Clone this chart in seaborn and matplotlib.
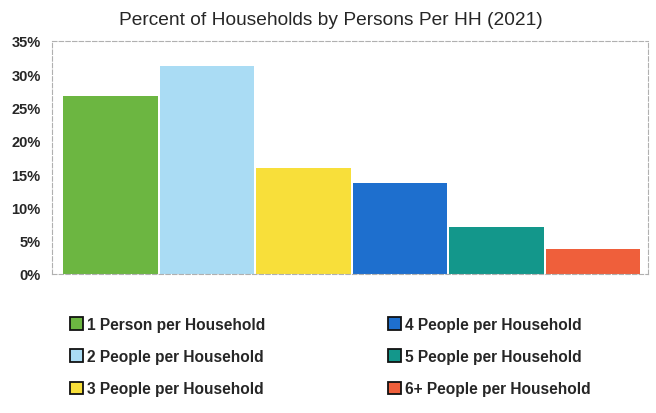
import matplotlib
matplotlib.use("Agg")
import matplotlib.pyplot as plt
from matplotlib.patches import Patch
from matplotlib.ticker import PercentFormatter
import seaborn as sns
import pandas as pd

categories = [
    "1 Person per Household",
    "2 People per Household",
    "3 People per Household",
    "4 People per Household",
    "5 People per Household",
    "6+ People per Household",
]
shares = [26.7, 31.2, 15.9, 13.7, 7.1, 3.7]
colors = ["#6cb641", "#aadcf4", "#f8df3a", "#1e6fce", "#13978b", "#ef5f3b"]
yticks = [0, 5, 10, 15, 20, 25, 30, 35]

sns.set_theme(style="white")
plt.rcParams["font.family"] = ["Liberation Sans", "DejaVu Sans"]

df = pd.DataFrame({"category": categories, "share": shares})

fig = plt.figure(figsize=(6.56, 4.14), dpi=100)
ax = fig.add_axes([0.079, 0.336, 0.909, 0.563])

sns.barplot(data=df, x="category", y="share", hue="category",
            palette=colors, order=categories, hue_order=categories,
            width=0.98, dodge=False, legend=False, ax=ax,
            saturation=1, edgecolor="none")

ax.set_xlim(-0.61, 5.57)
ax.set_ylim(0, 35)
ax.set_yticks(yticks)
ax.yaxis.set_major_formatter(PercentFormatter(decimals=0))
ax.set_xticks([])
ax.set_xlabel("")
ax.set_ylabel("")
ax.tick_params(axis="y", labelsize=10.5, pad=8, length=0)
for lbl in ax.get_yticklabels():
    lbl.set_fontweight("bold")

for side, sp in ax.spines.items():
    sp.set_visible(True)
    sp.set_color("#b0b0b0")
    sp.set_linestyle((0, (4, 2)))
    sp.set_linewidth(0.8)

fig.suptitle("Percent of Households by Persons Per HH (2021)",
             x=0.505, y=0.972, va="top", fontsize=13.8)

handles = [Patch(facecolor=c, edgecolor="#111111", linewidth=1.3) for c in colors]
fig.legend(handles, categories, loc="upper left", ncol=2,
           bbox_to_anchor=(0.097, 0.247), frameon=False,
           prop={"size": 11.2, "weight": "bold"},
           handlelength=0.85, handleheight=0.85, handletextpad=0.25,
           columnspacing=7.9, labelspacing=1.1, borderaxespad=0)

fig.savefig("out.png", dpi=100)
